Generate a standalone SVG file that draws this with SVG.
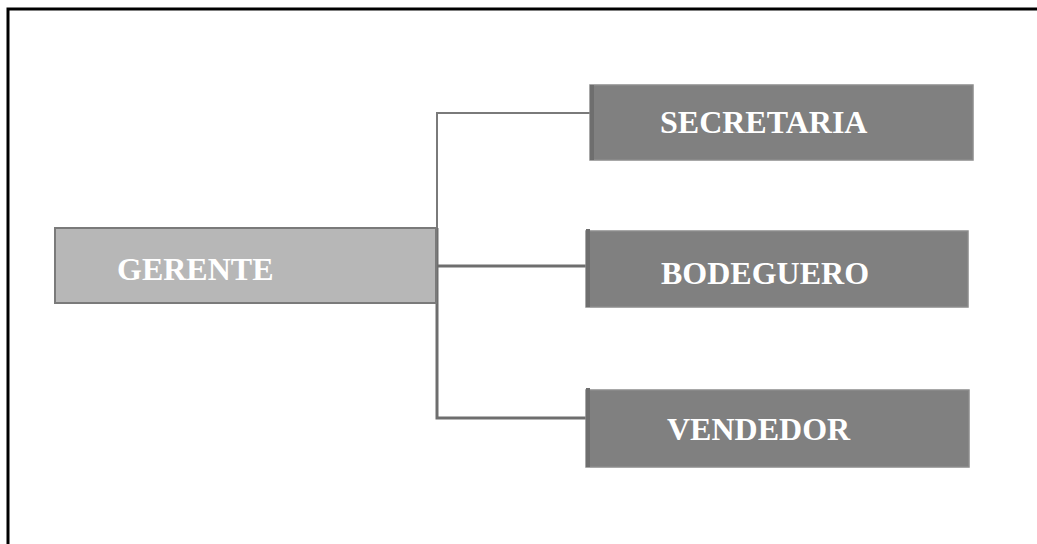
<svg xmlns="http://www.w3.org/2000/svg" width="1037" height="544" viewBox="0 0 1037 544">
<style>
.frame{fill:none;stroke:#000;stroke-width:3}
.boss{fill:#b7b7b7;stroke:#7a7a7a;stroke-width:2}
.sub{fill:#808080;stroke:#8c8c8c;stroke-width:1.5}
.edge{stroke:#6e6e6e;stroke-width:4}
.lbl{font-family:"Liberation Serif","Times New Roman",serif;font-weight:bold;font-size:32px;fill:#fff}
.wire{fill:none;stroke:#7a7a7a;stroke-width:2}
.wire2{fill:none;stroke:#6e6e6e;stroke-width:3}
</style>
<rect width="1037" height="544" fill="#fff"/>
<path class="frame" d="M8 544 V9 H1037"/>
<g id="connectors">
<path class="wire" d="M437 228 V113 H590"/>
<path class="wire2" d="M437 266 H586"/>
<path class="wire2" d="M437 303 V418 H586"/>
<path class="wire2" d="M437 228 V303"/>
</g>
<g id="gerente">
<rect class="boss" x="55" y="228" width="381" height="75"/>
<text class="lbl" x="117" y="280">GERENTE</text>
</g>
<g id="secretaria">
<rect class="sub" x="590" y="85" width="383" height="75"/>
<line class="edge" x1="592" y1="85" x2="592" y2="160"/>
<text class="lbl" x="660" y="133">SECRETARIA</text>
</g>
<g id="bodeguero">
<rect class="sub" x="586" y="231" width="382" height="76"/>
<line class="edge" x1="588" y1="229" x2="588" y2="307"/>
<text class="lbl" x="661" y="284">BODEGUERO</text>
</g>
<g id="vendedor">
<rect class="sub" x="586" y="390" width="383" height="77"/>
<line class="edge" x1="588" y1="388" x2="588" y2="467"/>
<text class="lbl" x="667" y="440">VENDEDOR</text>
</g>
</svg>
